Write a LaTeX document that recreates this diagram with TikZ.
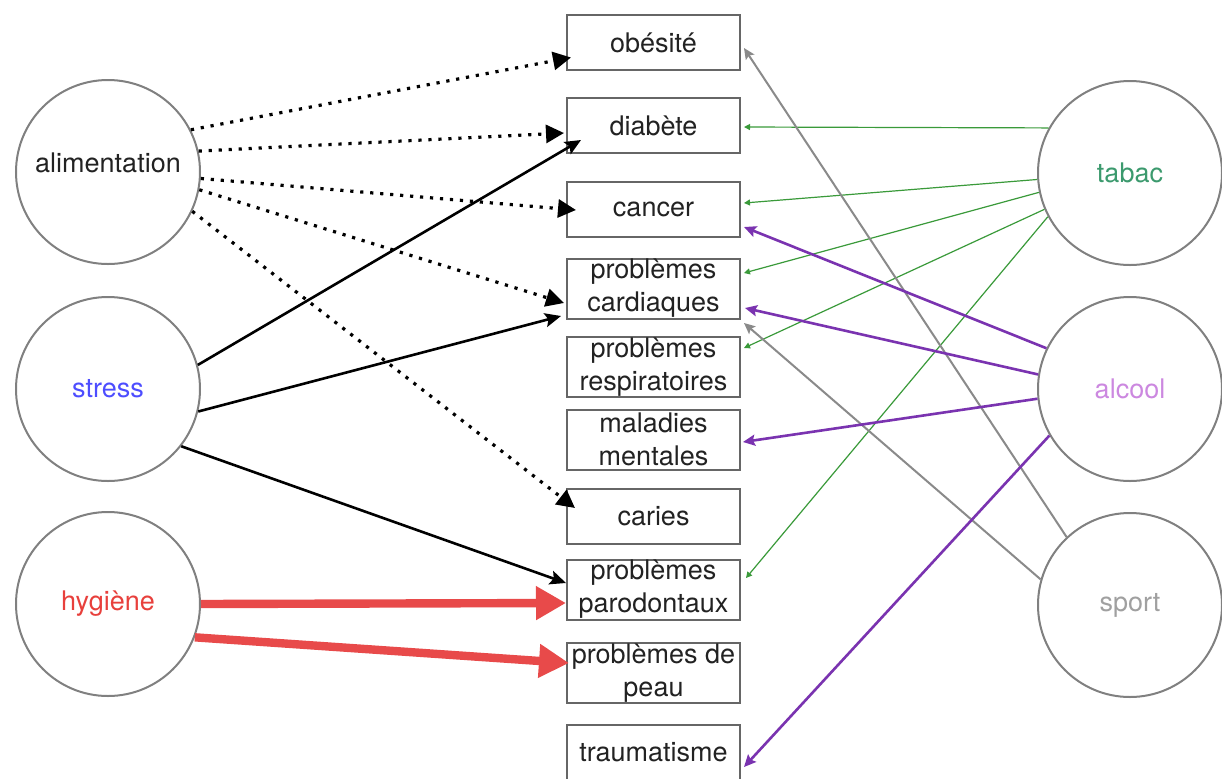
\documentclass[tikz,border=0pt]{standalone}
\usepackage{fontspec}
\setmainfont{TeX Gyre Heros}
\usetikzlibrary{arrows.meta,calc}
\definecolor{boxgray}{HTML}{666666}
\definecolor{circgray}{HTML}{808080}
\definecolor{textdark}{HTML}{222222}
\definecolor{stressblue}{HTML}{4D4DFF}
\definecolor{hygred}{HTML}{E8403C}
\definecolor{tabgreen}{HTML}{3C9A6E}
\definecolor{alcpurple}{HTML}{CC88E0}
\definecolor{sportgray}{HTML}{A0A0A0}
\definecolor{lgreen}{HTML}{3A9A3A}
\definecolor{lpurple}{HTML}{7A33B0}
\definecolor{lgray}{HTML}{8A8A8A}
\definecolor{lred}{HTML}{E84A4A}
\newcommand{\fsz}{\fontsize{13.5}{16.5}\selectfont}
\begin{document}
\begin{tikzpicture}[x=0.5pt,y=-0.5pt,
  circ/.style={circle, draw=circgray, line width=1pt, minimum size=92pt, inner sep=0pt, font=\fsz, text=textdark},
  box/.style={draw=boxgray, line width=1pt, minimum width=86.5pt, minimum height=27.5pt, inner sep=0pt, align=center, text=textdark, font=\fsz},
  boxtwo/.style={box, minimum height=30pt},
  dotarr/.style={line width=1.6pt, dash pattern=on 1.6pt off 3.4pt, -{Triangle[length=9pt,width=9pt]}},
  blkarr/.style={line width=1.3pt, -{Stealth[length=8pt,width=7pt,inset=1.5pt]}},
  redarr/.style={draw=lred, line width=4.2pt, -{Triangle[length=15pt,width=16pt]}},
  grnarr/.style={draw=lgreen, line width=0.6pt, -{Triangle[length=3pt,width=3pt]}},
  purarr/.style={draw=lpurple, line width=1.3pt, -{Stealth[length=6pt,width=5.5pt,inset=1pt]}},
  graarr/.style={draw=lgray, line width=1pt, -{Stealth[length=5.5pt,width=5pt,inset=1pt]}}
]
\fill[white] (0,0) rectangle (1222,778);
\useasboundingbox (0,0) rectangle (1222,778);

% circles
\node[circ] (alim) at (108,172) {\smash{alimentation}};
\node[circ, text=stressblue] (stress) at (108,389) {stress};
\node[circ, text=hygred] (hyg) at (108,604) {hygiène};
\node[circ, text=tabgreen] (tabac) at (1130,173) {tabac};
\node[circ, text=alcpurple] (alcool) at (1130,389) {alcool};
\node[circ, text=sportgray] (sport) at (1130,605) {sport};

% boxes
\node[box] (obesite) at (653.5,42.5) {obésité};
\node[box] (diabete) at (653.5,125.5) {diabète};
\node[box] (cancer) at (653.5,209) {cancer};
\node[boxtwo] (cardiaques) at (653.5,288.5) {problèmes\\cardiaques};
\node[boxtwo] (respir) at (653.5,367) {problèmes\\respiratoires};
\node[boxtwo] (mentales) at (653.5,439.5) {maladies\\mentales};
\node[box] (caries) at (653.5,516) {caries};
\node[boxtwo] (parodont) at (653.5,589.5) {problèmes\\parodontaux};
\node[boxtwo] (peau) at (653.5,673) {problèmes de\\peau};
\node[box] (trauma) at (653.5,752.5) {traumatisme};

% alimentation (dotted)
\draw[dotarr] (alim.27) -- ($(obesite.west)+(5,15)$);
\draw[dotarr] (alim.13) -- ($(diabete.west)+(-2,7.5)$);
\draw[dotarr] (alim.-4) -- ($(cancer.west)+(10,1)$);
\draw[dotarr] (alim.-11) -- ($(cardiaques.west)+(-2,14.5)$);
\draw[dotarr] (alim.-25) -- ($(caries.west)+(9,-8)$);

% stress
\draw[blkarr] (stress.15) -- ($(diabete.west)+(15,14.5)$);
\draw[blkarr] (stress.-14) -- ($(cardiaques.west)+(-5,27.5)$);
\draw[blkarr] (stress.-38) -- ($(parodont.west)+(0,-6.5)$);

% hygiene
\draw[redarr] (hyg.0) -- ($(parodont.west)+(0,13.5)$);
\draw[redarr] (hyg.-21) -- ($(peau.west)+(3,-10)$);

% tabac
\draw[grnarr] (tabac.151) -- ($(diabete.east)+(3,1.5)$);
\draw[grnarr] (tabac.184) -- ($(cancer.east)+(3,-6)$);
\draw[grnarr] (tabac.192) -- ($(cardiaques.east)+(3,-15.5)$);
\draw[grnarr] (tabac.203) -- ($(respir.east)+(3,-19)$);
\draw[grnarr] (tabac.208) -- ($(parodont.east)+(5,-11.5)$);

% sport
\draw[graarr] (sport.133) -- ($(obesite.east)+(3,5.5)$);
\draw[graarr] (sport.164) -- ($(cardiaques.east)+(3,34.5)$);

% alcool
\draw[purarr] (alcool.154) -- ($(cancer.east)+(3,18)$);
\draw[purarr] (alcool.171) -- ($(cardiaques.east)+(4,19.5)$);
\draw[purarr] (alcool.186) -- ($(mentales.east)+(2,2.5)$);
\draw[purarr] (alcool.210) -- ($(trauma.east)+(3,14.5)$);
\end{tikzpicture}
\end{document}
